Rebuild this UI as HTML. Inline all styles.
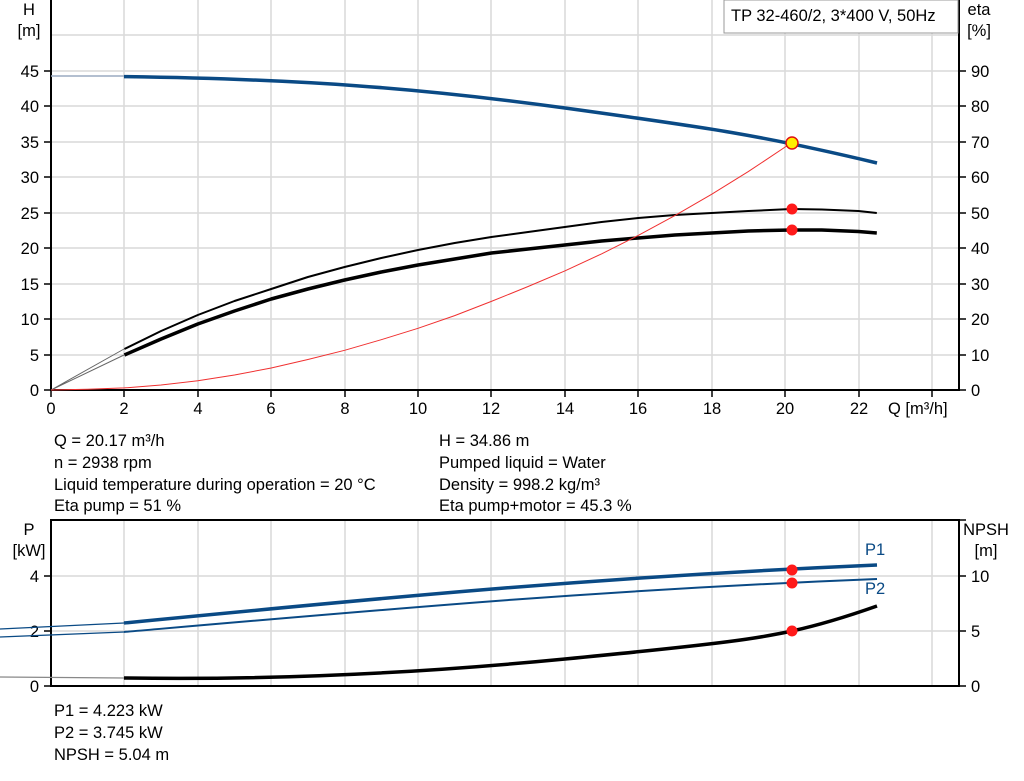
<!DOCTYPE html>
<html><head><meta charset="utf-8"><style>
html,body{margin:0;padding:0;background:#fff}
svg{display:block}
text{font-family:"Liberation Sans",Arial,sans-serif;font-size:16.5px;fill:#000}
</style></head><body>
<svg width="1024" height="781" viewBox="0 0 1024 781" xmlns="http://www.w3.org/2000/svg">
<g stroke="#d9d9d9" stroke-width="1.5" fill="none">
<path d="M124 0V390M198 0V390M271 0V390M345 0V390M418 0V390M491 0V390M565 0V390M638 0V390M712 0V390M785 0V390M859 0V390M932 0V390"/>
<path d="M51 35H959M51 71H959M51 106H959M51 142H959M51 177H959M51 213H959M51 248H959M51 284H959M51 319H959M51 355H959"/>
<path d="M124 520V686M198 520V686M271 520V686M345 520V686M418 520V686M491 520V686M565 520V686M638 520V686M712 520V686M785 520V686M859 520V686M932 520V686"/>
<path d="M51 576H959M51 631H959"/>
</g>
<g stroke="#000" stroke-width="2" fill="none">
<path d="M51 0V390H959V0"/>
<path d="M51 520H959V686H51Z"/>
</g>
<g stroke="#000" stroke-width="1.5">
<path d="M44 390H51M44 355H51M44 319H51M44 284H51M44 248H51M44 213H51M44 177H51M44 142H51M44 106H51M44 71H51"/>
<path d="M959 390H966M959 355H966M959 319H966M959 284H966M959 248H966M959 213H966M959 177H966M959 142H966M959 106H966M959 71H966"/>
<path d="M51 390V397M124 390V397M198 390V397M271 390V397M345 390V397M418 390V397M491 390V397M565 390V397M638 390V397M712 390V397M785 390V397M859 390V397M932 390V397"/>
<path d="M44 686H51M44 631H51M44 576H51M959 686H966M959 631H966M959 576H966M959 520H966"/>
</g>
<rect x="724" y="0" width="234" height="33" fill="#fff" stroke="#999" stroke-width="1"/>
<text x="731" y="21">TP 32-460/2, 3*400 V, 50Hz</text>
<g text-anchor="middle">
<text x="29" y="15">H</text><text x="29" y="36">[m]</text>
<text x="979" y="15">eta</text><text x="979" y="36">[%]</text>
<text x="29" y="535">P</text><text x="29" y="556">[kW]</text>
<text x="986" y="535">NPSH</text><text x="986" y="556">[m]</text>
<text x="51" y="414">0</text><text x="124" y="414">2</text><text x="198" y="414">4</text><text x="271" y="414">6</text><text x="345" y="414">8</text><text x="418" y="414">10</text><text x="491" y="414">12</text><text x="565" y="414">14</text><text x="638" y="414">16</text><text x="712" y="414">18</text><text x="785" y="414">20</text><text x="859" y="414">22</text>
</g>
<text x="888" y="414">Q [m³/h]</text>
<g text-anchor="end">
<text x="39" y="396">0</text><text x="39" y="361">5</text><text x="39" y="325">10</text><text x="39" y="290">15</text><text x="39" y="254">20</text><text x="39" y="219">25</text><text x="39" y="183">30</text><text x="39" y="148">35</text><text x="39" y="112">40</text><text x="39" y="77">45</text>
<text x="39" y="692">0</text><text x="39" y="637">2</text><text x="39" y="582">4</text>
</g>
<g>
<text x="971" y="396">0</text><text x="971" y="361">10</text><text x="971" y="325">20</text><text x="971" y="290">30</text><text x="971" y="254">40</text><text x="971" y="219">50</text><text x="971" y="183">60</text><text x="971" y="148">70</text><text x="971" y="112">80</text><text x="971" y="77">90</text>
<text x="971" y="692">0</text><text x="971" y="637">5</text><text x="971" y="582">10</text>
</g>
<path d="M51 76H124" stroke="#9aaac0" stroke-width="1.5" fill="none"/>
<path d="M124 76.6 C300 79 420 88 565 108 S760 135 877 163" stroke="#0a4a85" stroke-width="3.5" fill="none"/>
<path d="M51 390L124 349M51 390L124 355" stroke="#666" stroke-width="1" fill="none"/>
<polyline stroke-linejoin="round" points="124.4,349 161.1,331 197.8,315 234.5,301 271.2,289 307.9,277 344.6,267 381.3,258 418,250 454.7,243 491.4,237 528.1,232 564.8,227 601.5,222 638.2,218 674.9,215 711.6,213 748.3,211 791.2,209 821.7,209.5 858.4,211 876.8,213" stroke="#000" stroke-width="2" fill="none"/>
<polyline stroke-linejoin="round" points="124.4,355 161.1,339 197.8,324 234.5,311 271.2,299 307.9,289 344.6,280 381.3,272 418,265 454.7,259 491.4,253 528.1,249 564.8,245 601.5,241 638.2,238 674.9,235 711.6,233 748.3,231 791.2,230 821.7,230 858.4,231.5 876.8,233" stroke="#000" stroke-width="3.5" fill="none"/>
<polyline stroke-linejoin="round" points="51,390 87.7,389.3 124.4,387.9 161.1,385 197.8,380.8 234.5,375 271.2,368 307.9,359.5 344.6,350.3 381.3,339.7 418,328.3 454.7,315.6 491.4,301.4 528.1,286.5 564.8,270.9 601.5,253.9 638.2,235.4 674.9,215.6 711.6,194.3 748.3,171.6 791.2,143" stroke="#f03030" stroke-width="1" fill="none"/>
<circle cx="792" cy="143" r="6" fill="#ffee00" stroke="#e01010" stroke-width="1.5"/>
<circle cx="792" cy="209" r="5.5" fill="#ff1a1a"/>
<circle cx="792" cy="230" r="5.5" fill="#ff1a1a"/>
<text x="54" y="446">Q = 20.17 m³/h</text>
<text x="54" y="468">n = 2938 rpm</text>
<text x="54" y="490">Liquid temperature during operation = 20 °C</text>
<text x="54" y="511">Eta pump = 51 %</text>
<text x="439" y="446">H = 34.86 m</text>
<text x="439" y="468">Pumped liquid = Water</text>
<text x="439" y="490">Density = 998.2 kg/m³</text>
<text x="439" y="511">Eta pump+motor = 45.3 %</text>
<path d="M0 629L124 623M0 637L124 632" stroke="#0a4a85" stroke-width="1.3" fill="none"/>
<path d="M124 623 C400 596 600 577 877 565" stroke="#0a4a85" stroke-width="3.5" fill="none"/>
<path d="M124 632 C400 608 600 590 877 579" stroke="#0a4a85" stroke-width="2" fill="none"/>
<path d="M0 677L124 678" stroke="#888" stroke-width="1.3" fill="none"/>
<path d="M124 678 C250 680 400 675 565 659 S760 638 792 631 S860 612 877 606" stroke="#000" stroke-width="3.5" fill="none"/>
<circle cx="792" cy="570" r="5.5" fill="#ff1a1a"/>
<circle cx="792" cy="583" r="5.5" fill="#ff1a1a"/>
<circle cx="792" cy="631" r="5.5" fill="#ff1a1a"/>
<text x="865" y="555" style="fill:#0a4a85">P1</text>
<text x="865" y="594" style="fill:#0a4a85">P2</text>
<text x="54" y="716">P1 = 4.223 kW</text>
<text x="54" y="738">P2 = 3.745 kW</text>
<text x="54" y="760">NPSH = 5.04 m</text>
</svg>
</body></html>
